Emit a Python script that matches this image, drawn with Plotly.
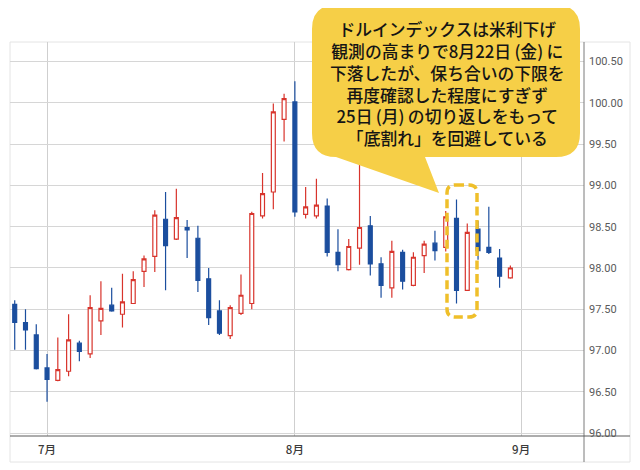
import pandas as pd
import plotly.graph_objects as go

# ---- data (US Dollar Index, daily) ----
dates = pd.bdate_range("2025-06-26", "2025-08-29")
opens = [97.56, 97.34, 97.19, 96.79, 96.64, 96.75, 97.09, 96.96, 97.36, 97.55,
         97.44, 97.57, 97.96, 98.14, 98.59, 98.35, 98.49, 98.36, 97.87, 97.48,
         97.18, 97.45, 97.57, 98.63, 98.92, 99.80, 100.01, 98.65, 98.63, 98.75,
         98.19, 97.98, 98.24, 98.51, 98.05, 97.76, 98.19, 97.79, 98.15, 98.30,
         98.25, 98.60, 97.73, 98.47, 98.25, 98.12, 97.88]
highs = [97.61, 97.50, 97.32, 96.96, 97.16, 97.44, 97.12, 97.67, 97.84, 97.76,
         97.93, 97.96, 98.15, 98.70, 98.92, 98.96, 98.58, 98.51, 98.00, 97.61,
         97.55, 97.92, 98.68, 99.15, 99.99, 100.11, 100.26, 98.98, 99.08, 98.84,
         98.47, 98.35, 99.26, 98.63, 98.13, 98.33, 98.22, 98.19, 98.33, 98.45,
         98.69, 98.83, 98.54, 98.57, 98.74, 98.23, 98.03]
lows = [97.01, 97.01, 96.77, 96.38, 96.63, 96.69, 96.87, 96.91, 97.19, 97.47,
        97.28, 97.57, 97.77, 97.95, 97.73, 98.34, 98.12, 97.71, 97.31, 97.19,
        97.14, 97.43, 97.50, 98.60, 98.71, 99.53, 98.62, 98.60, 98.60, 98.14,
        97.96, 97.97, 98.04, 97.91, 97.64, 97.64, 97.74, 97.78, 97.94, 98.09,
        98.20, 97.57, 97.72, 98.10, 98.17, 97.76, 97.87]
closes = [97.34, 97.25, 96.78, 96.65, 96.77, 97.13, 96.99, 97.52, 97.51, 97.48,
          97.59, 97.86, 98.11, 98.64, 98.27, 98.61, 98.46, 97.85, 97.40, 97.21,
          97.52, 97.67, 98.66, 98.90, 99.89, 100.05, 98.68, 98.74, 98.76, 98.19,
          98.04, 98.26, 98.49, 98.05, 97.79, 98.20, 97.84, 98.13, 98.29, 98.21,
          98.62, 97.73, 98.43, 98.21, 98.19, 97.90, 98.00]

tick_dates = ["2025-07-01", "2025-08-01", "2025-09-01"]
tick_labels = ["7月", "8月", "9月"]

callout_text = ("ドルインデックスは米利下げ<br>観測の高まりで8月22日\u2009(金)\u2009に<br>"
                "下落したが、保ち合いの下限を<br>再度確認した程度にすぎず<br>"
                "25日\u2009(月)\u2009の切り返しをもって<br>「底割れ」を回避している")

# ---- geometry helpers (screen pixels -> paper coords) ----
OFF = 8  # page body margin
W, H = 632, 462
PL, PR, PT, PB = 10 - OFF, 584 - OFF, 42 - OFF, 436 - OFF


def fx(p):
    return (p - OFF - PL) / (PR - PL)


def fy(p):
    return (PB - (p - OFF)) / (PB - PT)


def rounded_path(L, T, R, B, r, tail=None):
    pts = []
    pts.append(f"M {fx(L + r):.5f},{fy(T):.5f}")
    pts.append(f"L {fx(R - r):.5f},{fy(T):.5f}")
    pts.append(f"Q {fx(R):.5f},{fy(T):.5f} {fx(R):.5f},{fy(T + r):.5f}")
    pts.append(f"L {fx(R):.5f},{fy(B - r):.5f}")
    pts.append(f"Q {fx(R):.5f},{fy(B):.5f} {fx(R - r):.5f},{fy(B):.5f}")
    if tail:
        for (tx, ty) in tail:
            pts.append(f"L {fx(tx):.5f},{fy(ty):.5f}")
    pts.append(f"L {fx(L + r):.5f},{fy(B):.5f}")
    pts.append(f"Q {fx(L):.5f},{fy(B):.5f} {fx(L):.5f},{fy(B - r):.5f}")
    pts.append(f"L {fx(L):.5f},{fy(T + r):.5f}")
    pts.append(f"Q {fx(L):.5f},{fy(T):.5f} {fx(L + r):.5f},{fy(T):.5f}")
    pts.append("Z")
    return " ".join(pts)


BLUE = "#1B4E9E"
RED = "#D8342C"

fig = go.Figure(go.Candlestick(
    x=dates, open=opens, high=highs, low=lows, close=closes,
    increasing=dict(line=dict(color=RED, width=1.2), fillcolor="white"),
    decreasing=dict(line=dict(color=BLUE, width=1.2), fillcolor=BLUE),
    whiskerwidth=0, showlegend=False, hoverinfo="skip",
))

shapes = [
    # outer frame
    dict(type="rect", xref="paper", yref="paper", x0=fx(10), x1=fx(630),
         y0=fy(462), y1=fy(42), line=dict(color="#E4E4E4", width=1), layer="below"),
    # right axis line
    dict(type="line", xref="paper", yref="paper", x0=1, x1=1, y0=fy(462), y1=fy(42),
         line=dict(color="#7A7A7A", width=1)),
    # bottom axis line
    dict(type="line", xref="paper", yref="paper", x0=fx(10), x1=fx(630), y0=0, y1=0,
         line=dict(color="#5A5A5A", width=1)),
    # callout bubble
    dict(type="path", xref="paper", yref="paper",
         path=rounded_path(312, 5, 580, 157, 24, tail=[(425, 157), (439, 193), (336, 157)]),
         fillcolor="#F6CF47", line=dict(width=0), layer="above"),
    # dashed highlight box
    dict(type="path", xref="paper", yref="paper",
         path=rounded_path(447, 185, 477, 317, 8),
         fillcolor="rgba(0,0,0,0)", line=dict(color="#EFBF2A", width=3.5, dash="9px,4.5px"),
         layer="above"),
]

fig.update_layout(
    width=W, height=H,
    margin=dict(l=PL, r=W - PR, t=PT, b=H - PB),
    paper_bgcolor="white", plot_bgcolor="white",
    showlegend=False, boxgap=0.48,
    shapes=shapes,
    annotations=[dict(
        xref="paper", yref="paper", x=fx(447), y=fy(83), xanchor="center", yanchor="middle",
        text=callout_text, showarrow=False, align="center",
        font=dict(family="Noto Sans CJK JP", size=16.8, color="#151515", weight=500),
    )],
    xaxis=dict(
        type="date",
        range=["2025-06-25 13:30", "2025-09-08 20:00"],
        rangebreaks=[dict(bounds=["sat", "mon"])],
        rangeslider=dict(visible=False),
        tickmode="array", tickvals=tick_dates, ticktext=tick_labels,
        showgrid=True, gridcolor="#CFCFCF", gridwidth=1,
        showline=False, zeroline=False, ticks="",
        tickfont=dict(family="Noto Sans CJK JP", size=11.5, color="#3A3A3A", weight=500),
        ticklabelstandoff=5,
    ),
    yaxis=dict(
        side="right",
        range=[95.966, 100.736],
        tick0=96, dtick=0.5, tickformat=".2f",
        showgrid=True, gridcolor="#D6D6D6", gridwidth=1,
        showline=False, zeroline=False, ticks="",
        tickfont=dict(family="Roboto, Noto Sans", size=11, color="#5A5A5A"),
        ticklabelstandoff=4,
    ),
)

fig.write_html("out.html")
